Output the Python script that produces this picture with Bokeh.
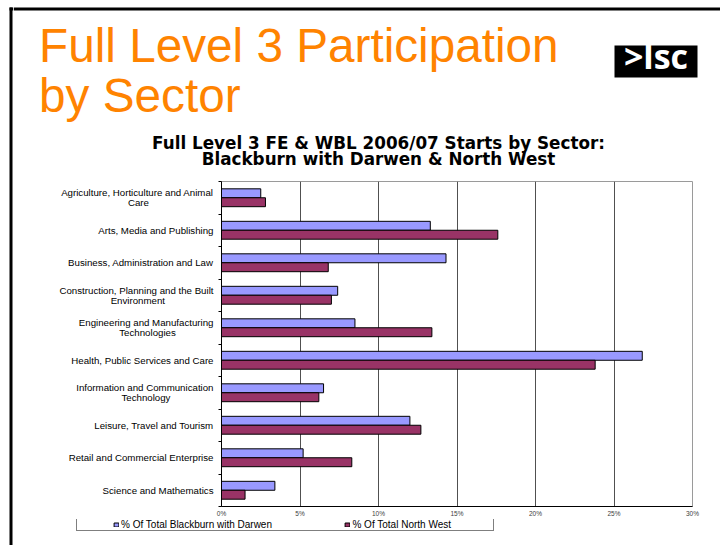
from bokeh.plotting import figure
from bokeh.layouts import column, row
from bokeh.models import (ColumnDataSource, Range1d, FixedTicker, PrintfTickFormatter,
                          Label, BoxAnnotation, Legend, LegendItem)
from bokeh.transform import dodge
from bokeh.core.properties import value
from bokeh.embed import file_html
from bokeh.resources import INLINE

# ---------------- data ----------------
categories = [
    "Agriculture, Horticulture and Animal\nCare",
    "Arts, Media and Publishing",
    "Business, Administration and Law",
    "Construction, Planning and the Built\nEnvironment",
    "Engineering and Manufacturing\nTechnologies",
    "Health, Public Services and Care",
    "Information and Communication\nTechnology",
    "Leisure, Travel and Tourism",
    "Retail and Commercial Enterprise",
    "Science and Mathematics",
]
blackburn = [2.5, 13.3, 14.3, 7.4, 8.5, 26.8, 6.5, 12.0, 5.2, 3.4]
north_west = [2.8, 17.6, 6.8, 7.0, 13.4, 23.8, 6.2, 12.7, 8.3, 1.5]
x_ticks = [0, 5, 10, 15, 20, 25, 30]
series_names = ["% Of Total Blackburn with Darwen", "% Of Total North West"]
series_colors = ["#9999FF", "#993366"]
slide_title = ["Full Level 3 Participation", "by Sector"]
chart_title = ["Full Level 3 FE & WBL 2006/07 Starts by Sector:",
               "Blackburn with Darwen & North West"]

# ---------------- styling helpers ----------------
NBSP = "\u00a0"
line2_pad = {0: 24, 3: 18, 4: 14, 6: 16}   # centre second line of wrapped labels


def display_label(i, text):
    if "\n" in text and i in line2_pad:
        a, b = text.split("\n")
        return a + "\n" + b + NBSP * line2_pad[i]
    return text


def blank_fig(x0, x1, h):
    f = figure(frame_width=x1 - x0, frame_height=h, output_backend="svg",
               toolbar_location=None,
               x_range=Range1d(x0, x1), y_range=Range1d(h, 0),
               x_axis_type=None, y_axis_type=None,
               min_border=0, min_border_left=0, min_border_right=0,
               min_border_top=0, min_border_bottom=0)
    f.outline_line_color = None
    f.background_fill_color = "white"
    f.border_fill_color = "white"
    return f


def bar(f, **kw):
    f.add_layout(BoxAnnotation(fill_color="black", fill_alpha=1, line_color=None, **kw))


TOTAL_W, TOTAL_H = 720, 545
HEADER_H, CHART_H = 173, 346
FOOTER_H = TOTAL_H - HEADER_H - CHART_H
EDGE = 13          # width of the left strip holding the slide frame line

# ---------------- left strip: slide frame line ----------------
edge = blank_fig(0, EDGE, TOTAL_H)
bar(edge, left=9, top=7, bottom=10)
bar(edge, left=9, right=12, top=7)

# ---------------- header: slide title, logo, chart title ----------------
header = blank_fig(EDGE, TOTAL_W, HEADER_H)
bar(header, top=7, bottom=10)                                  # top frame line
for txt, yy in zip(slide_title, [45.0, 94.9]):
    header.add_layout(Label(x=38.6, y=yy, text=txt, text_font="Liberation Sans",
                            text_font_size="47.7px", text_color="#FF8300",
                            text_baseline="alphabetic"))
bar(header, left=614, right=697, top=45, bottom=77)           # logo plate
header.add_layout(Label(x=655.5, y=55.8, text=">lsc", text_font="Open Sans",
                        text_font_style="bold", text_font_size="34px", text_color="white",
                        text_align="center", text_baseline="alphabetic"))
for txt, yy in zip(chart_title, [142, 158]):
    header.add_layout(Label(x=378, y=yy, text=txt, text_font="DejaVu Sans",
                            text_font_style="bold", text_font_size="16.8px",
                            text_color="black", text_align="center",
                            text_baseline="alphabetic"))

# ---------------- chart ----------------
n = len(categories)
p = figure(width=TOTAL_W - EDGE, height=CHART_H, output_backend="svg",
           toolbar_location=None,
           x_range=Range1d(x_ticks[0], x_ticks[-1]), y_range=Range1d(n, 0),
           min_border_left=221 - EDGE, min_border_right=28, min_border_top=8,
           min_border_bottom=11)
p.background_fill_color = "white"
p.border_fill_color = "white"
p.outline_line_color = "#9a9a9a"
p.outline_line_width = 1

p.ygrid.visible = False
p.xgrid.ticker = FixedTicker(ticks=x_ticks[1:-1])
p.xgrid.grid_line_color = "#505050"
p.xgrid.grid_line_width = 1

xax = p.xaxis[0]
xax.ticker = FixedTicker(ticks=x_ticks)
xax.formatter = PrintfTickFormatter(format="%d%%")
xax.major_tick_out = 0
xax.major_tick_in = 0
xax.minor_tick_out = 0
xax.minor_tick_in = 0
xax.major_label_standoff = 3
xax.major_label_text_font = "Liberation Sans"
xax.major_label_text_font_size = "6.5px"
xax.major_label_text_color = "#404040"
xax.axis_line_color = "black"

yax = p.yaxis[0]
centres = [i + 0.5 for i in range(n)]
yax.ticker = FixedTicker(ticks=centres, minor_ticks=list(range(n + 1)))
yax.major_label_overrides = {c: display_label(i, t)
                             for i, (c, t) in enumerate(zip(centres, categories))}
yax.major_tick_out = 0
yax.major_tick_in = 0
yax.minor_tick_out = 3
yax.minor_tick_in = 0
yax.minor_tick_line_color = "black"
yax.major_label_standoff = 5
yax.major_label_text_font = "Liberation Sans"
yax.major_label_text_font_size = "9.7px"
yax.major_label_text_line_height = 0.88
yax.major_label_text_color = "black"
yax.axis_line_color = "black"

src = ColumnDataSource(dict(pos=centres, bdw=blackburn, nw=north_west))
bh = 0.275
p.hbar(y=dodge("pos", -bh / 2), left=0, right="bdw", height=bh, source=src,
       fill_color=series_colors[0], line_color="black", line_width=1)
p.hbar(y=dodge("pos", bh / 2), left=0, right="nw", height=bh, source=src,
       fill_color=series_colors[1], line_color="black", line_width=1)

# ---------------- footer: legend ----------------
footer = blank_fig(EDGE, TOTAL_W, FOOTER_H)
# legend proxies: one off-canvas swatch each (only their legend glyph is seen)
lg = [footer.quad(left=[-20], right=[-10], top=[-20], bottom=[-10],
                  fill_color=c, line_color="black") for c in series_colors]
pad_r = footer.quad(left=[-20], right=[-10], top=[-20], bottom=[-10],
                    fill_alpha=0, line_alpha=0)
legend = Legend(items=[
    LegendItem(label=value(""), renderers=[pad_r]),
    LegendItem(label=value(series_names[0] + NBSP * 16), renderers=[lg[0]]),
    LegendItem(label=value(series_names[1] + NBSP * 2), renderers=[lg[1]]),
    LegendItem(label=value(""), renderers=[pad_r]),
], orientation="horizontal", location=(76 - EDGE, 14))
legend.padding = 0
legend.margin = 0
legend.spacing = 28
legend.label_standoff = 2
legend.glyph_width = 6
legend.glyph_height = 5
legend.label_width = 0
legend.label_height = 8
legend.border_line_color = "black"
legend.border_line_width = 1
legend.background_fill_color = "white"
legend.background_fill_alpha = 1
legend.label_text_font = "Liberation Sans"
legend.label_text_font_size = "10px"
legend.label_text_line_height = 0.9
legend.label_text_color = "black"
footer.add_layout(legend)

# the chart sits in its own row so that its frame is not aligned with the header's
layout = row(edge, column(header, row(p), footer))
open("out.html", "w").write(file_html(layout, INLINE))
